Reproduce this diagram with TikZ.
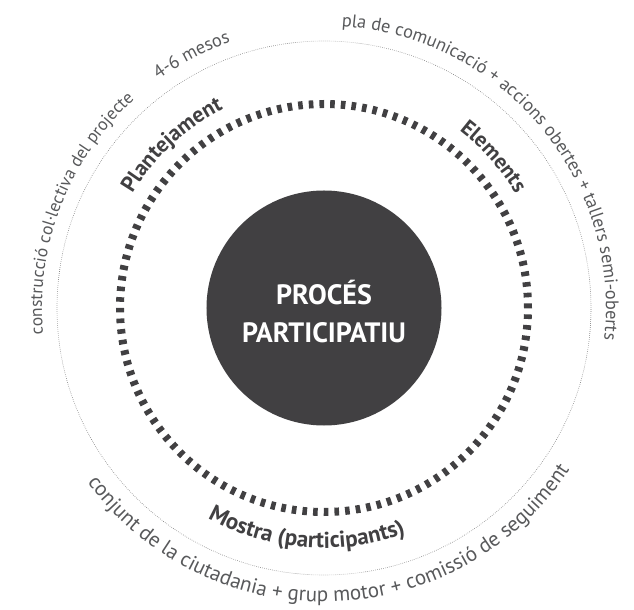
\documentclass[tikz,border=0pt]{standalone}
\usepackage{fontspec}
\setmainfont{PT Sans}
\usetikzlibrary{decorations.text}
\definecolor{dark}{HTML}{414042}
\definecolor{lighttext}{HTML}{58595B}
\definecolor{dotgray}{HTML}{7A7A7A}
\tikzset{
  outerlabel/.style={decorate, decoration={text along path, text align=center, text={#1}}},
}
\begin{document}
\begin{tikzpicture}[x=1bp,y=1bp]
\useasboundingbox (-324,-302) rectangle (310,308);
% outer dotted ring
\draw[dotgray, line width=0.6bp, dash pattern=on 0.6bp off 1.4bp] (0,0) circle[radius=267];
% dashed ring
\draw[dark, line width=8bp, dash pattern=on 4.6bp off 6.08bp] (0,0) circle[radius=204];
% core
\node[circle, fill=dark, minimum size=235bp, inner sep=0pt] (core) at (0,0) {};
\node[text=white, font=\bfseries\fontsize{28bp}{38bp}\selectfont, align=center] (coretext) at (0,-4) {PROCÉS\\PARTICIPATIU};
% bold labels
\path[outerlabel={|\bfseries\fontsize{22bp}{22bp}\selectfont\color{dark}|Plantejament}]
  (213:223) arc[start angle=213, end angle=53, radius=223];
\path[outerlabel={|\bfseries\fontsize{21.5bp}{22bp}\selectfont\color{dark}|Elements}]
  (121.7:223) arc[start angle=121.7, end angle=-38.3, radius=223];
\path[outerlabel={|\bfseries\fontsize{23bp}{23bp}\selectfont\color{dark}|Mostra (participants)}]
  (-174.5:240) arc[start angle=-174.5, end angle=-14.5, radius=240];
% outer texts
\path[outerlabel={|\fontsize{18.4bp}{18bp}\selectfont\color{lighttext}|4-6 mesos}]
  (197.6:282) arc[start angle=197.6, end angle=37.6, radius=282];
\path[outerlabel={|\fontsize{17.6bp}{18bp}\selectfont\color{lighttext}|construcció col·lectiva del projecte}]
  (238.8:282) arc[start angle=238.8, end angle=78.8, radius=282];
\path[outerlabel={|\fontsize{18.3bp}{18bp}\selectfont\color{lighttext}|pla de comunicació + accions obertes + tallers semi-oberts}]
  (120:282) arc[start angle=120, end angle=-40, radius=282];
\path[outerlabel={|\fontsize{21bp}{21bp}\selectfont\color{lighttext}|conjunt de la ciutadania + grup motor + comissió de seguiment}]
  (-178.5:294) arc[start angle=-178.5, end angle=1.5, radius=294];
\end{tikzpicture}
\end{document}
